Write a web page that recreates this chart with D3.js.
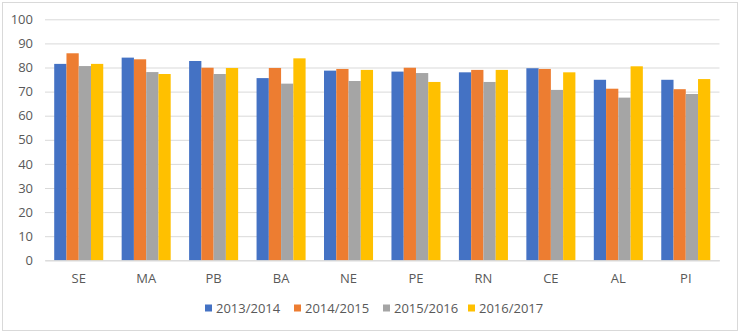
<!DOCTYPE html>
<html>
<head>
<meta charset="utf-8">
<script src="https://cdn.jsdelivr.net/npm/d3@7"></script>
<style>
  html, body { margin: 0; padding: 0; background: #fff; }
  svg { display: block; }
  text { font-family: "Open Sans", "Noto Sans", sans-serif; fill: #595959; }
</style>
</head>
<body>
<svg id="chart" width="741" height="333"></svg>
<script>
const categories = ["SE", "MA", "PB", "BA", "NE", "PE", "RN", "CE", "AL", "PI"];
const seriesNames = ["2013/2014", "2014/2015", "2015/2016", "2016/2017"];
const s2013 = [81.5, 84.1, 82.7, 75.6, 78.7, 78.3, 78.0, 79.7, 74.9, 74.9];
const s2014 = [85.9, 83.4, 79.9, 79.8, 79.4, 79.9, 79.0, 79.4, 71.2, 71.0];
const s2015 = [80.6, 78.1, 77.3, 73.3, 74.4, 77.7, 74.0, 70.7, 67.5, 69.0];
const s2016 = [81.5, 77.3, 79.8, 83.8, 79.0, 74.0, 79.0, 78.0, 80.5, 75.2];
const yTicks = [0, 10, 20, 30, 40, 50, 60, 70, 80, 90, 100];
const colors = ["#4472C4", "#ED7D31", "#A5A5A5", "#FFC000"];

(function () {
const series = [s2013, s2014, s2015, s2016];
const svg = d3.select("#chart");

// outer border
svg.append("rect").attr("x", 2.5).attr("y", 2.5).attr("width", 735).attr("height", 328)
  .attr("fill", "#fff").attr("stroke", "#D9D9D9").attr("stroke-width", 1);

const mLeft = 45, mRight = 719.5, mTop = 19.3, mBottom = 260.3;

const x = d3.scaleBand().domain(categories).range([mLeft, mRight])
  .paddingInner(0.273).paddingOuter(0.1365);
const xs = d3.scaleBand().domain(d3.range(series.length)).range([0, x.bandwidth()]);
const y = d3.scaleLinear().domain([0, 100]).range([mBottom, mTop]);

// gridlines
const yAxis = d3.axisLeft(y).tickValues(yTicks).tickSize(-(mRight - mLeft)).tickPadding(12);
const gy = svg.append("g").attr("transform", `translate(${mLeft},0)`).call(yAxis);
gy.select(".domain").remove();
gy.selectAll(".tick line").attr("stroke", "#D9D9D9").attr("stroke-width", 1);
gy.selectAll(".tick text").attr("font-size", 13).attr("fill", "#595959")
  .style("font-family", '"Open Sans", sans-serif');

// bars
categories.forEach((c, i) => {
  series.forEach((s, k) => {
    svg.append("rect")
      .attr("x", x(c) + xs(k))
      .attr("y", y(s[i]))
      .attr("width", xs.bandwidth())
      .attr("height", y(0) - y(s[i]))
      .attr("fill", colors[k]);
  });
});

// x axis
const xAxis = d3.axisBottom(x).tickSize(0).tickPadding(13);
const gx = svg.append("g").attr("transform", `translate(0,${mBottom})`).call(xAxis);
gx.select(".domain").attr("stroke", "#D9D9D9");
gx.selectAll(".tick text").attr("font-size", 13).attr("fill", "#595959")
  .style("font-family", '"Open Sans", sans-serif');

// legend
const legendX = [205, 294, 383, 468];
const lg = svg.append("g");
seriesNames.forEach((n, k) => {
  lg.append("rect").attr("x", legendX[k]).attr("y", 304.5).attr("width", 7).attr("height", 7)
    .attr("fill", colors[k]);
  lg.append("text").attr("x", legendX[k] + 11).attr("y", 308.3).attr("dy", "0.35em")
    .attr("font-size", 13).text(n);
});
})();
</script>
</body>
</html>
